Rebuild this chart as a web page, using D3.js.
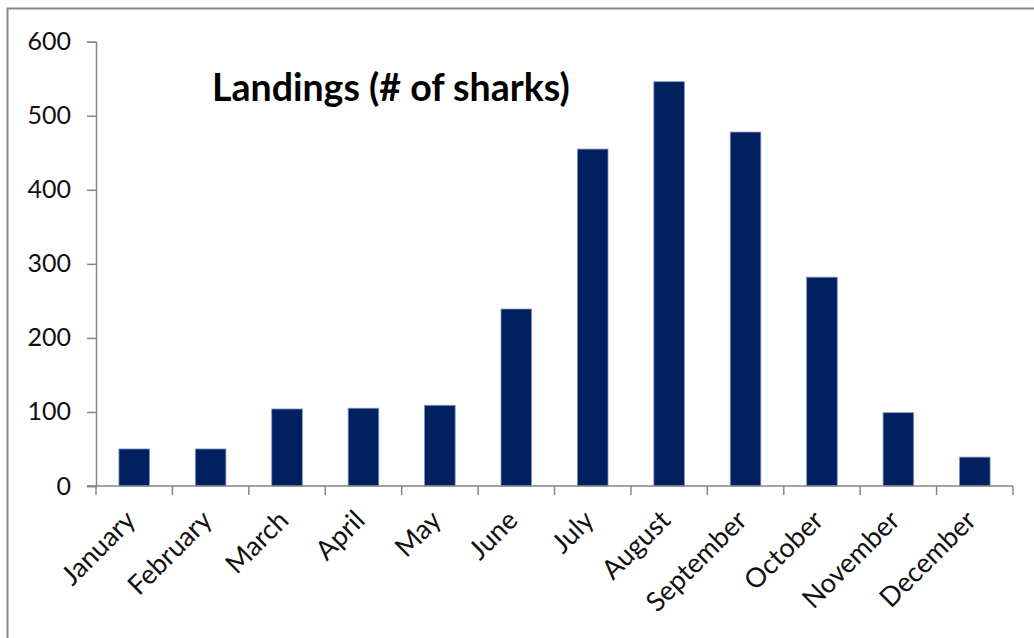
<!DOCTYPE html>
<html>
<head>
<meta charset="utf-8">
<script src="https://cdn.jsdelivr.net/npm/d3@7"></script>
<style>
  html, body { margin: 0; padding: 0; background: #fff; }
  svg { display: block; }
</style>
</head>
<body>
<svg id="chart" width="1034" height="638"></svg>
<script>
const months = ["January","February","March","April","May","June","July","August","September","October","November","December"];
const landings = [50, 50, 104, 105, 109, 239, 455, 546, 478, 282, 99, 39];
const yTicks = [0, 100, 200, 300, 400, 500, 600];
const title = "Landings (# of sharks)";

const W = 1034, H = 638;
const plot = { left: 96, right: 1013, top: 41.7, bottom: 486 };
const FONT = "Lato, 'Open Sans', sans-serif";

const svg = d3.select("#chart");

// outer frame (top and left edges visible)
svg.append("path")
  .attr("d", `M7.5,${H} L7.5,8.5 L${W},8.5`)
  .attr("fill", "none").attr("stroke", "#878787").attr("stroke-width", 2);

const x = d3.scaleBand().domain(months).range([plot.left, plot.right]).paddingInner(0.6).paddingOuter(0.3);
const xTickScale = d3.scaleBand().domain(months).range([plot.left, plot.right]);
const y = d3.scaleLinear().domain([0, 600]).range([plot.bottom, plot.top]);

// bars
svg.append("g").selectAll("rect").data(landings).join("rect")
  .attr("x", (d, i) => x(months[i]))
  .attr("width", x.bandwidth())
  .attr("y", d => y(d))
  .attr("height", d => y(0) - y(d))
  .attr("fill", "#002060")
  .attr("stroke", "#7f92bd")
  .attr("stroke-width", 0.8);

// y axis
const yAxis = svg.append("g").attr("transform", `translate(${plot.left},0)`)
  .call(d3.axisLeft(y).tickValues(yTicks).tickSize(9).tickPadding(16).tickFormat(d3.format("d")));
yAxis.select(".domain").attr("stroke", "#868686").attr("stroke-width", 1.5);
yAxis.selectAll(".tick line").attr("stroke", "#868686").attr("stroke-width", 1.5);
yAxis.selectAll(".tick text").attr("fill", "#111").style("font-family", FONT).style("font-size", "25px");

// x axis
const xAxisG = svg.append("g").attr("transform", `translate(0,${plot.bottom})`);
xAxisG.append("line")
  .attr("x1", plot.left - 9).attr("x2", plot.right)
  .attr("stroke", "#868686").attr("stroke-width", 1.5);
const boundaries = months.map(m => xTickScale(m)).concat([plot.right]);
xAxisG.selectAll("line.tk").data(boundaries).join("line").attr("class", "tk")
  .attr("x1", d => d).attr("x2", d => d).attr("y1", 0).attr("y2", 9)
  .attr("stroke", "#868686").attr("stroke-width", 1.5);

xAxisG.selectAll("text.lbl").data(months).join("text").attr("class", "lbl")
  .attr("transform", d => `translate(${xTickScale(d) + xTickScale.bandwidth() / 2 + 3},${36}) rotate(-45)`)
  .attr("text-anchor", "end")
  .attr("fill", "#111")
  .style("font-family", FONT).style("font-size", "27px")
  .text(d => d);

// title
svg.append("text")
  .attr("x", 212).attr("y", 101)
  .attr("fill", "#000")
  .style("font-family", FONT).style("font-weight", "bold").style("font-size", "37.5px")
  .text(title);
</script>
</body>
</html>
